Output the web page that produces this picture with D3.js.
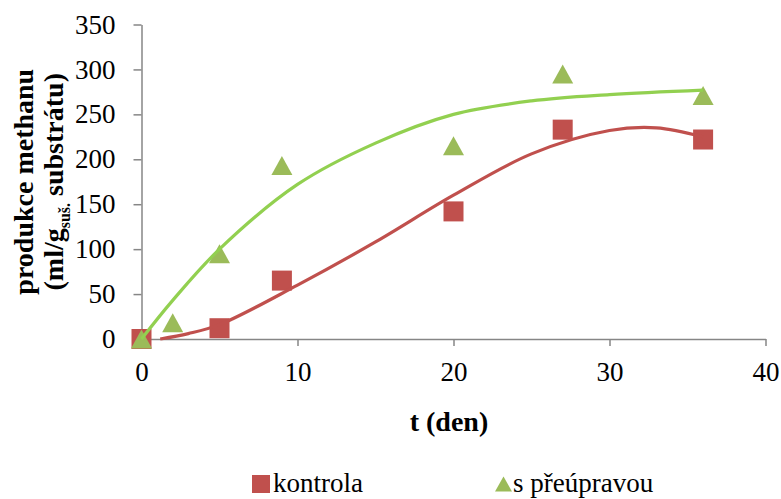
<!DOCTYPE html>
<html><head><meta charset="utf-8"><script src="https://cdn.jsdelivr.net/npm/d3@7"></script></head>
<body style="margin:0">
<svg id="chart" width="781" height="499" style="font-family:'Liberation Serif'"></svg>
<script>
// measured points
const kontrolaDays = [0, 5, 9, 20, 27, 36]
const kontrolaValues = [0, 12, 65, 142, 233, 222]
const upravaDays = [0, 2, 5, 9, 20, 27, 36]
const upravaValues = [0, 18, 95, 193, 215, 295, 271]

// trend lines
const kontrolaTrendDays = [1.2, 3, 5, 10, 15, 20, 25, 30, 33, 36]
const kontrolaTrendValues = [0, 6, 16, 60, 108, 160, 206, 232, 235, 225]
const upravaTrendDays = [0, 2, 5, 10, 15, 20, 25, 30, 36]
const upravaTrendValues = [0, 43, 100, 172, 218, 250, 265, 272, 277]

const xTicks = [0, 10, 20, 30, 40]
const yTicks = [0, 50, 100, 150, 200, 250, 300, 350]
const legendLabels = ["kontrola", "s přeúpravou"]

const red = "#c0504d", green = "#9bbb59", greenLine = "#92d050", axisGrey = "#868686"
const fontName = "'Liberation Serif'"

const svg = d3.select("#chart")

const x = d3.scaleLinear().domain([0, 40]).range([141.5, 765.5])
const y = d3.scaleLinear().domain([0, 350]).range([339, 24.5])

// axes
const yAxis = svg.append("g")
    .attr("transform", "translate(" + x(0) + ",0)")
    .call(d3.axisLeft(y).tickValues(yTicks).tickSize(8).tickSizeOuter(0).tickPadding(18))
const xAxis = svg.append("g")
    .attr("transform", "translate(0," + y(0) + ")")
    .call(d3.axisBottom(x).tickValues(xTicks).tickSize(7).tickSizeOuter(0).tickPadding(16))

for (const ax of [xAxis, yAxis]) {
    ax.attr("font-family", null).attr("font-size", null)
    ax.select(".domain").attr("stroke", axisGrey).attr("stroke-width", 1.5)
    ax.selectAll(".tick line").attr("stroke", axisGrey).attr("stroke-width", 1.5)
    ax.selectAll(".tick text")
        .style("font-family", fontName)
        .attr("font-size", 27)
        .attr("fill", "#000")
}

// markers
function triangle(w, h) {
    return "M0," + (-h / 2) + "L" + (w / 2) + "," + (h / 2) + "L" + (-w / 2) + "," + (h / 2) + "Z"
}

svg.append("g").selectAll("rect")
    .data(kontrolaDays.map((d, i) => ({ t: d, v: kontrolaValues[i] })))
    .join("rect")
    .attr("x", d => x(d.t) - 10)
    .attr("y", d => y(d.v) - 10)
    .attr("width", 20)
    .attr("height", 20)
    .attr("fill", red)

svg.append("g").selectAll("path")
    .data(upravaDays.map((d, i) => ({ t: d, v: upravaValues[i] })))
    .join("path")
    .attr("d", triangle(21, 19))
    .attr("transform", d => "translate(" + x(d.t) + "," + y(d.v) + ")")
    .attr("fill", green)

// trend lines
const line = d3.line()
    .x(d => x(d.t))
    .y(d => y(d.v))
    .curve(d3.curveCatmullRom.alpha(0.5))

svg.append("path")
    .datum(kontrolaTrendDays.map((d, i) => ({ t: d, v: kontrolaTrendValues[i] })))
    .attr("d", line)
    .attr("fill", "none")
    .attr("stroke", red)
    .attr("stroke-width", 3.2)

svg.append("path")
    .datum(upravaTrendDays.map((d, i) => ({ t: d, v: upravaTrendValues[i] })))
    .attr("d", line)
    .attr("fill", "none")
    .attr("stroke", greenLine)
    .attr("stroke-width", 3.2)

// axis titles
svg.append("text")
    .attr("x", 449)
    .attr("y", 431)
    .attr("text-anchor", "middle")
    .style("font-family", fontName)
    .attr("font-weight", "bold")
    .attr("font-size", 28)
    .text("t (den)")

const yTitle = svg.append("g")
    .attr("transform", "translate(0," + ((y(0) + y(350)) / 2) + ") rotate(-90)")
yTitle.append("text")
    .attr("x", 0)
    .attr("y", 33)
    .attr("text-anchor", "middle")
    .style("font-family", fontName)
    .attr("font-weight", "bold")
    .attr("font-size", 28)
    .text("produkce methanu")
const t2 = yTitle.append("text")
    .attr("x", 0)
    .attr("y", 63)
    .attr("text-anchor", "middle")
    .style("font-family", fontName)
    .attr("font-weight", "bold")
    .attr("font-size", 28)
t2.append("tspan").text("(ml/g")
t2.append("tspan").attr("font-size", 16).attr("dy", 7).text("suš.")
t2.append("tspan").attr("dy", -7).text(" substrátu)")

// legend
const legend = svg.append("g")
legend.append("rect")
    .attr("x", 252).attr("y", 475).attr("width", 18).attr("height", 18)
    .attr("fill", red)
legend.append("text")
    .attr("x", 273).attr("y", 492)
    .style("font-family", fontName)
    .attr("font-size", 27)
    .text(legendLabels[0])
legend.append("path")
    .attr("d", triangle(17, 15))
    .attr("transform", "translate(503.5,484)")
    .attr("fill", green)
legend.append("text")
    .attr("x", 513).attr("y", 492)
    .style("font-family", fontName)
    .attr("font-size", 27)
    .text(legendLabels[1])
</script>
</body></html>
